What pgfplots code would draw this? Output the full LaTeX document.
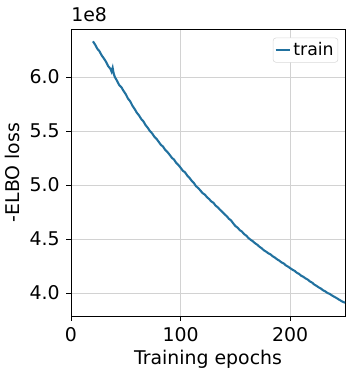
\documentclass[border=0pt]{standalone}
\usepackage{fontspec}
\setmainfont{DejaVu Sans}
\usepackage{pgfplots}
\pgfplotsset{compat=1.18}
\definecolor{tabblue}{HTML}{21719F}
\begin{document}
\fontsize{13.6}{16}\selectfont
\begin{tikzpicture}
\path[use as bounding box] (-51.12pt,-41.04pt) rectangle (203.04pt,227.52pt);
\begin{axis}[
  at={(0pt,0pt)}, anchor=south west,
  scale only axis,
  width=197.3pt, height=206.6pt,
  xmin=0, xmax=250, ymin=3.787, ymax=6.444,
  xtick={0,100,200}, ytick={4.0,4.5,5.0,5.5,6.0},
  /pgf/number format/assume math mode=true,
  yticklabel style={/pgf/number format/.cd, fixed, fixed zerofill, precision=1},
  xticklabel style={/pgf/number format/.cd, fixed},
  scaled y ticks=false,
  tick align=outside, tick pos=left,
  major tick length=3.5pt,
  tick style={black, line width=0.6pt},
  grid=major, grid style={gray!35, line width=0.6pt},
  axis line style={black, line width=0.6pt},
  xlabel={Training epochs}, ylabel={-ELBO loss},
  xlabel style={yshift=3pt},
  ylabel style={yshift=-2pt},
  label style={font=\fontsize{13.6}{16}\selectfont},
  ticklabel style={font=\fontsize{13.6}{16}\selectfont},
  legend style={at={(0.975,0.97)}, anchor=north east, draw=gray!30, rounded corners=2pt, font=\fontsize{12.5}{14}\selectfont, inner xsep=1pt, inner ysep=1pt},
  legend image code/.code={\draw[#1] (0pt,0pt) -- (10pt,0pt);},
  legend cell align=left,
  clip=false,
]
\addplot[tabblue, line width=1.5pt] coordinates {
(20,6.330)(22,6.300)(24,6.262)(26,6.238)(28,6.200)(30,6.172)
(32,6.140)(34,6.100)(36,6.075)(37,6.050)(38,6.085)(39,6.030)(40,6.000)
(42,5.965)(44,5.925)(46,5.905)(48,5.870)(50,5.840)
(52,5.800)(54,5.775)(56,5.735)(58,5.705)(60,5.670)
(62,5.645)(64,5.612)(66,5.590)(68,5.555)(70,5.530)(72,5.500)
(74,5.478)(76,5.448)(78,5.428)(80,5.400)
(82,5.372)(84,5.355)(86,5.325)(88,5.305)(90,5.280)
(92,5.252)(94,5.235)(96,5.205)(98,5.185)(100,5.160)
(102,5.132)(104,5.118)(106,5.088)(108,5.068)(110,5.040)
(112,5.020)(114,4.990)(116,4.972)(118,4.950)
(120,4.925)(122,4.912)(124,4.888)(126,4.870)
(128,4.848)(130,4.835)(132,4.808)(134,4.793)(136,4.770)(138,4.752)(140,4.730)
(142,4.712)(144,4.688)(146,4.672)(148,4.645)(150,4.620)
(152,4.605)(154,4.582)(156,4.568)(158,4.545)(160,4.530)(162,4.508)(164,4.492)
(166,4.478)(168,4.460)(170,4.447)(172,4.428)(174,4.414)(176,4.395)
(178,4.383)(180,4.368)(182,4.358)(184,4.340)(186,4.328)(188,4.312)
(190,4.300)(192,4.284)(194,4.274)(196,4.256)(198,4.244)(200,4.230)
(202,4.216)(204,4.205)(206,4.188)(208,4.177)(210,4.160)(212,4.150)
(214,4.135)(216,4.124)(218,4.107)(220,4.096)(222,4.078)(224,4.066)
(226,4.052)(228,4.041)(230,4.025)(232,4.015)(234,4.000)(236,3.992)(238,3.978)
(240,3.966)(242,3.955)(244,3.942)(246,3.930)(248,3.918)(250,3.910)
};
\addlegendentry{train}
\node[anchor=south west, inner sep=0pt, yshift=5pt, font=\fontsize{13.6}{16}\selectfont] at (rel axis cs:0,1) {1e8};
\end{axis}
\end{tikzpicture}
\end{document}
